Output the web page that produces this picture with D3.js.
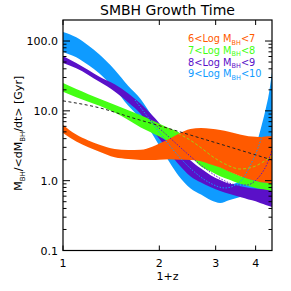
<!DOCTYPE html>
<html>
<head>
<meta charset="utf-8">
<script src="https://cdn.jsdelivr.net/npm/d3@7"></script>
<style>
    body { margin: 0; background: #fff; }
    text { font-family: "DejaVu Sans", sans-serif; }
</style>
</head>
<body>
<div id="chart"></div>
<script>
// 1+z sample points shared by all bands
const onePlusZ = [1.0, 1.1, 1.2, 1.3, 1.45, 1.6, 1.75, 1.9, 2.0, 2.15, 2.3, 2.5, 2.7, 2.9, 3.1, 3.3, 3.6, 3.8, 4.0, 4.15, 4.3, 4.4, 4.5];

// growth time bands [Gyr], upper and lower edge
const lowUpper  = [6.28, 4.57, 3.77, 3.27, 2.84, 2.75, 2.77, 3.07, 3.40, 4.0, 4.71, 5.50, 5.67, 5.56, 5.32, 5.01, 4.53, 4.34, 4.27, 4.23, 4.30, 4.33, 4.37];
const lowLower  = [4.82, 3.63, 3.0, 2.59, 2.16, 2.04, 1.98, 1.98, 2.0, 2.03, 1.99, 1.98, 1.90, 1.70, 1.54, 1.35, 1.15, 1.06, 1.0, 0.95, 0.93, 0.915, 0.90];
const midUpper  = [25.1, 20.5, 17.3, 14.9, 12.2, 10.2, 8.62, 7.28, 6.56, 5.65, 4.92, 3.42, 2.15, 1.82, 1.57, 1.38, 1.16, 1.065, 0.987, 0.958, 0.93, 0.918, 0.897];
const midLower  = [18.7, 15.6, 13.5, 11.8, 9.46, 7.41, 5.78, 4.81, 4.3, 3.56, 3.01, 2.24, 1.6, 1.35, 1.16, 1.04, 0.894, 0.837, 0.786, 0.758, 0.741, 0.729, 0.712];
const highUpper = [61.2, 48.5, 38.5, 30.9, 24.0, 17.7, 12.6, 8.62, 6.67, 4.34, 3.0, 1.96, 1.49, 1.19, 1.02, 0.909, 0.834, 0.794, 0.77, 0.76, 0.76, 0.76, 0.76];
const highLower = [48.5, 40.6, 32.7, 26.0, 19.0, 13.2, 9.0, 5.34, 3.97, 2.56, 1.70, 1.16, 0.942, 0.802, 0.712, 0.651, 0.578, 0.538, 0.508, 0.474, 0.45, 0.435, 0.42];
const topUpper  = [135, 113, 86, 64, 38.8, 22.7, 14.7, 8.48, 6.26, 3.93, 2.64, 1.51, 1.07, 0.89, 0.84, 0.865, 1.03, 1.78, 3.08, 5.54, 10.6, 17.6, 36.1];
const topLower  = [69.8, 58.4, 45.2, 34.3, 20.7, 11.8, 7.66, 4.71, 3.16, 1.85, 1.17, 0.78, 0.632, 0.524, 0.479, 0.524, 0.588, 0.618, 0.647, 0.671, 0.694, 0.717, 0.736];

// thin dashed curves
const allZ    = [1.0, 1.305, 1.655, 2.113, 2.68, 3.40, 4.5];
const allTime = [13.9, 11.0, 7.9, 5.69, 4.09, 2.94, 1.98];
const midFitZ    = [1.939, 2.239, 2.494, 2.68, 2.943, 3.254, 3.573, 3.925, 4.217, 4.5];
const midFitTime = [6.49, 4.98, 3.83, 3.04, 2.19, 1.68, 1.47, 1.57, 1.85, 2.26];
const highFitZ    = [1.87, 2.16, 2.494, 2.88, 3.208, 3.498, 3.758, 3.981, 4.187, 4.341, 4.5];
const highFitTime = [7.41, 4.09, 2.26, 1.33, 0.99, 0.868, 0.868, 0.99, 1.29, 1.73, 2.75];
const topFitZ    = [1.679, 1.87, 2.16, 2.494, 2.88, 3.208, 3.573, 3.84, 4.068, 4.246, 4.371, 4.5];
const topFitTime = [14.3, 7.41, 3.14, 1.52, 0.927, 0.786, 0.958, 1.62, 2.94, 5.32, 8.73, 14.3];

const binLabels = [["6", "7"], ["7", "8"], ["8", "9"], ["9", "10"]];
const binColors = ["#ff5a00", "#44ff14", "#5a10c8", "#0f9bff"];

const xTicks = [1, 2, 3, 4];
const yTicks = [0.1, 1, 10, 100];

const width = 291, height = 291;
const margin = {top: 20, right: 19, bottom: 40.5, left: 63};
const innerW = width - margin.left - margin.right;
const innerH = height - margin.top - margin.bottom;

const svg = d3.select("#chart").append("svg")
    .attr("width", width)
    .attr("height", height);

const defs = svg.append("defs");
defs.append("clipPath").attr("id", "clip")
    .append("rect").attr("width", innerW).attr("height", innerH);

const g = svg.append("g")
    .attr("transform", `translate(${margin.left},${margin.top})`);

const xScale = d3.scaleLog().domain([1, 4.5]).range([0, innerW]);
const yScale = d3.scaleLog().domain([0.1, 200]).range([innerH, 0]);

const plot = g.append("g").attr("clip-path", "url(#clip)");

// bands: drawn from highest mass bin down so the low-mass one ends on top
const bands = [
    {upper: topUpper, lower: topLower, color: binColors[3]},
    {upper: highUpper, lower: highLower, color: binColors[2]},
    {upper: midUpper, lower: midLower, color: binColors[1]},
    {upper: lowUpper, lower: lowLower, color: binColors[0]}
];

const area = d3.area()
    .x(d => xScale(d.z))
    .y0(d => yScale(d.lo))
    .y1(d => yScale(d.hi))
    .curve(d3.curveMonotoneX);

bands.forEach(b => {
    const pts = onePlusZ.map((z, i) => ({z: z, hi: b.upper[i], lo: b.lower[i]}));
    plot.append("path")
        .datum(pts)
        .attr("d", area)
        .attr("fill", b.color);
});

const line = d3.line()
    .x(d => xScale(d[0]))
    .y(d => yScale(d[1]))
    .curve(d3.curveMonotoneX);

const fits = [
    {z: topFitZ, t: topFitTime, color: binColors[3], dash: "1.5,1.5"},
    {z: highFitZ, t: highFitTime, color: binColors[2], dash: "1.5,1.5"},
    {z: midFitZ, t: midFitTime, color: "#a0d010", dash: "3,2"},
    {z: allZ, t: allTime, color: "#222", dash: "3,2.5"}
];

fits.forEach(f => {
    plot.append("path")
        .datum(f.z.map((z, i) => [z, f.t[i]]))
        .attr("d", line)
        .attr("fill", "none")
        .attr("stroke", f.color)
        .attr("stroke-width", 1)
        .attr("stroke-dasharray", f.dash);
});

// minor ticks on y
const yMinor = [];
for (let dec = 0.1; dec < 200; dec *= 10) {
    for (let k = 2; k <= 9; k++) {
        const v = dec * k;
        if (v < 200) yMinor.push(v);
    }
}

const tickG = g.append("g").attr("stroke", "#000").attr("stroke-width", 1);

xTicks.forEach(v => {
    const x = xScale(v);
    tickG.append("line").attr("x1", x).attr("x2", x).attr("y1", innerH).attr("y2", innerH - 5);
    tickG.append("line").attr("x1", x).attr("x2", x).attr("y1", 0).attr("y2", 5);
});
yTicks.forEach(v => {
    const y = yScale(v);
    tickG.append("line").attr("x1", 0).attr("x2", 7).attr("y1", y).attr("y2", y);
    tickG.append("line").attr("x1", innerW).attr("x2", innerW - 7).attr("y1", y).attr("y2", y);
});
yMinor.forEach(v => {
    const y = yScale(v);
    tickG.append("line").attr("x1", 0).attr("x2", 3.5).attr("y1", y).attr("y2", y);
    tickG.append("line").attr("x1", innerW).attr("x2", innerW - 3.5).attr("y1", y).attr("y2", y);
});

// frame
g.append("rect")
    .attr("width", innerW)
    .attr("height", innerH)
    .attr("fill", "none")
    .attr("stroke", "#000")
    .attr("stroke-width", 1.2);

// tick labels
g.selectAll(".xlab")
    .data(xTicks)
    .join("text")
    .attr("class", "xlab")
    .attr("x", d => xScale(d))
    .attr("y", innerH + 16)
    .attr("text-anchor", "middle")
    .attr("font-size", "11px")
    .text(d => d);

g.selectAll(".ylab")
    .data(yTicks)
    .join("text")
    .attr("class", "ylab")
    .attr("x", -5)
    .attr("y", d => yScale(d) + 4)
    .attr("text-anchor", "end")
    .attr("font-size", "11px")
    .text(d => d3.format(".1f")(d));

// axis titles
svg.append("text")
    .attr("x", margin.left + innerW / 2)
    .attr("y", 280)
    .attr("text-anchor", "middle")
    .attr("font-size", "11px")
    .text("1+z");

const yTitle = svg.append("text")
    .attr("transform", `translate(22,${margin.top + innerH / 2 - 2}) rotate(-90)`)
    .attr("text-anchor", "middle")
    .attr("font-size", "11px");
yTitle.append("tspan").text("M");
yTitle.append("tspan").attr("font-size", "7px").attr("dy", 3).text("BH");
yTitle.append("tspan").attr("dy", -3).text("/<dM");
yTitle.append("tspan").attr("font-size", "7px").attr("dy", 3).text("BH");
yTitle.append("tspan").attr("dy", -3).text("/dt> [Gyr]");

svg.append("text")
    .attr("x", margin.left + innerW / 2)
    .attr("y", 15)
    .attr("text-anchor", "middle")
    .attr("font-size", "14px")
    .text("SMBH Growth Time");

// legend
binLabels.forEach((b, i) => {
    const t = svg.append("text")
        .attr("x", 188)
        .attr("y", 42 + i * 11.8)
        .attr("font-size", "9.8px")
        .attr("fill", binColors[i]);
    t.append("tspan").text(`${b[0]}<Log M`);
    t.append("tspan").attr("font-size", "6.5px").attr("dy", 2.5).text("BH");
    t.append("tspan").attr("dy", -2.5).text(`<${b[1]}`);
});
</script>
</body>
</html>
